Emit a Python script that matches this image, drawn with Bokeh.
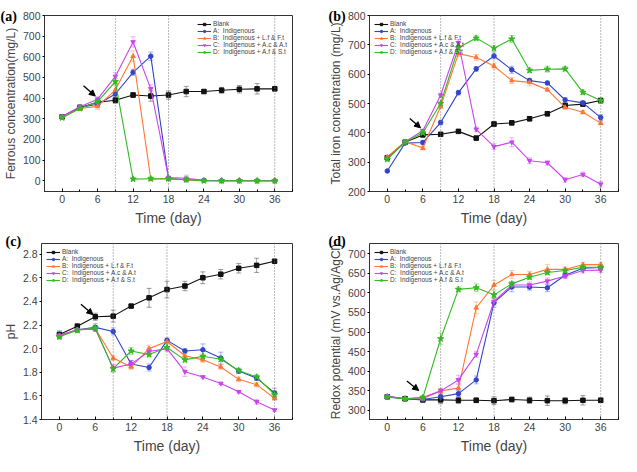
from bokeh.plotting import figure
from bokeh.layouts import column, row
from bokeh.models import (ColumnDataSource, Whisker, TeeHead, Legend, LegendItem,
                          Span, Label, Arrow, NormalHead, FixedTicker, PrintfTickFormatter)
from bokeh.embed import file_html
from bokeh.resources import INLINE

# ---------------- data ----------------
days = [0, 3, 6, 9, 12, 15, 18, 21, 24, 27, 30, 33, 36]
series_names = ["Blank", "A:  Indigenous", "B:  Indigenous + L.f & F.t",
                "C:  Indigenous + A.c & A.t", "D:  Indigenous + A.f & S.t"]
colors = ["#111111", "#3344cc", "#ff7733", "#cc44ee", "#33bb22"]
markers = ["square", "circle", "triangle", "inverted_triangle", "star"]
x_title = "Time (day)"

# (a) Ferrous concentration (mg/L)
fe2_blank = [310, 355, 380, 390, 415, 410, 415, 432, 432, 438, 443, 445, 445]
fe2_A = [310, 355, 370, 420, 525, 603, 10, 5, 2, 0, 0, 0, 0]
fe2_B = [310, 350, 360, 440, 603, 8, 10, 5, 0, 0, 0, 0, 0]
fe2_C = [312, 358, 395, 505, 672, 445, 15, 12, 2, 0, 0, 0, 0]
fe2_D = [305, 350, 383, 480, 8, 10, 10, 5, 0, 0, 0, 0, 0]
fe2_err_blank = [8, 10, 10, 15, 12, 25, 20, 25, 10, 14, 18, 25, 10]
fe2_err_A = [8, 10, 10, 15, 15, 20, 8, 5, 3, 3, 3, 3, 3]
fe2_err_B = [8, 10, 14, 20, 25, 10, 8, 5, 3, 3, 3, 3, 3]
fe2_err_C = [8, 10, 12, 18, 25, 20, 8, 15, 3, 3, 3, 3, 3]
fe2_err_D = [8, 10, 10, 15, 8, 8, 8, 5, 3, 3, 3, 3, 3]

# (b) Total iron concentration (mg/L)
tfe_blank = [315, 368, 393, 395, 405, 382, 430, 434, 448, 465, 493, 498, 510]
tfe_A = [270, 365, 367, 435, 537, 618, 662, 615, 578, 570, 512, 502, 452]
tfe_B = [318, 370, 348, 490, 670, 657, 628, 578, 572, 547, 487, 470, 433]
tfe_C = [312, 370, 407, 528, 707, 412, 353, 368, 305, 298, 240, 258, 225]
tfe_D = [310, 368, 400, 500, 690, 723, 688, 720, 613, 617, 618, 538, 510]
tfe_err_blank = [5, 5, 6, 6, 6, 6, 8, 8, 8, 8, 8, 8, 8]
tfe_err_A = [5, 5, 6, 8, 8, 8, 10, 12, 8, 6, 8, 8, 10]
tfe_err_B = [5, 5, 6, 8, 10, 10, 10, 10, 12, 6, 8, 6, 6]
tfe_err_C = [5, 5, 6, 8, 10, 8, 10, 15, 10, 8, 8, 8, 10]
tfe_err_D = [5, 5, 6, 8, 8, 8, 10, 12, 8, 10, 8, 8, 8]

# (c) pH
ph_blank = [2.12, 2.19, 2.27, 2.275, 2.36, 2.43, 2.50, 2.53, 2.60, 2.63, 2.68, 2.705, 2.74]
ph_A = [2.11, 2.16, 2.18, 2.145, 1.87, 1.84, 2.07, 1.98, 1.99, 1.92, 1.81, 1.75, 1.625]
ph_B = [2.11, 2.16, 2.17, 1.92, 1.845, 2.00, 2.06, 1.94, 1.905, 1.845, 1.74, 1.695, 1.58]
ph_C = [2.11, 2.16, 2.165, 1.835, 1.87, 1.975, 2.00, 1.805, 1.76, 1.705, 1.635, 1.55, 1.48]
ph_D = [2.10, 2.155, 2.175, 1.83, 1.98, 1.95, 2.01, 1.905, 1.935, 1.91, 1.815, 1.76, 1.61]
ph_err_blank = [0.03, 0.02, 0.03, 0.05, 0.01, 0.08, 0.07, 0.04, 0.05, 0.04, 0.04, 0.06, 0.01]
ph_err_A = [0.02, 0.02, 0.03, 0.03, 0.03, 0.03, 0.02, 0.02, 0.05, 0.05, 0.02, 0.02, 0.04]
ph_err_B = [0.02, 0.02, 0.02, 0.02, 0.02, 0.03, 0.02, 0.02, 0.02, 0.02, 0.02, 0.02, 0.02]
ph_err_C = [0.02, 0.02, 0.02, 0.03, 0.03, 0.03, 0.02, 0.04, 0.01, 0.01, 0.01, 0.02, 0.01]
ph_err_D = [0.02, 0.02, 0.02, 0.03, 0.03, 0.02, 0.03, 0.02, 0.02, 0.02, 0.02, 0.02, 0.03]

# (d) Redox potential (mV vs. Ag/AgCl)
orp_blank = [335, 330, 327, 327, 326, 326, 325, 328, 326, 325, 325, 326, 326]
orp_A = [336, 330, 328, 335, 343, 378, 575, 615, 615, 613, 645, 663, 665]
orp_B = [335, 330, 330, 350, 357, 562, 620, 647, 647, 660, 660, 672, 672]
orp_C = [336, 330, 333, 350, 378, 443, 578, 620, 620, 630, 643, 657, 658]
orp_D = [334, 330, 333, 483, 609, 613, 595, 623, 640, 652, 657, 665, 665]
orp_err_blank = [5, 5, 5, 10, 8, 6, 10, 6, 8, 12, 8, 12, 6]
orp_err_A = [4, 4, 4, 6, 8, 10, 12, 12, 8, 10, 6, 6, 6]
orp_err_B = [4, 4, 4, 6, 12, 15, 12, 10, 8, 12, 6, 6, 6]
orp_err_C = [4, 4, 4, 6, 12, 8, 10, 8, 8, 8, 6, 6, 6]
orp_err_D = [4, 4, 4, 15, 6, 10, 10, 6, 6, 6, 6, 6, 6]

dividers = [9, 18, 36]
x_ticks = [0, 6, 12, 18, 24, 30, 36]


def make_panel(tag, ylabel, data, errs, yrange, yticks, ytick_fmt, legend_loc,
               arrow, width, height, borders, tag_pos):
    bl, br, bt, bb = borders
    p = figure(width=width, height=height, output_backend="svg",
               toolbar_location=None, x_range=(-3, 39), y_range=yrange,
               min_border_left=bl, min_border_right=br,
               min_border_top=bt, min_border_bottom=bb)
    p.grid.visible = False
    p.outline_line_color = "#333333"
    p.outline_line_width = 1
    p.background_fill_color = "white"
    p.border_fill_color = "white"

    xa = p.xaxis[0]
    xa.ticker = FixedTicker(ticks=x_ticks, minor_ticks=list(range(-3, 40, 3)))
    xa.axis_label = x_title
    xa.axis_label_text_font = "Liberation Sans"
    xa.axis_label_text_font_style = "normal"
    xa.axis_label_text_font_size = "14px"
    xa.axis_label_standoff = 4
    xa.major_label_text_font = "Liberation Sans"
    xa.major_label_text_font_size = "10.5px"
    xa.major_label_standoff = 3
    xa.major_tick_in = 3
    xa.major_tick_out = 0
    xa.minor_tick_in = 2
    xa.minor_tick_out = 0
    xa.axis_line_color = "#333333"

    ya = p.yaxis[0]
    ya.ticker = FixedTicker(ticks=yticks, minor_ticks=[])
    ya.axis_label = ylabel
    ya.axis_label_text_font = "Liberation Sans"
    ya.axis_label_text_font_style = "normal"
    ya.axis_label_text_font_size = "12px"
    ya.axis_label_standoff = 2
    ya.major_label_text_font = "Liberation Sans"
    ya.major_label_text_font_size = "10.5px"
    ya.major_label_standoff = 2
    ya.major_tick_in = 0
    ya.major_tick_out = 2
    ya.minor_tick_in = 0
    ya.minor_tick_out = 0
    ya.axis_line_color = "#333333"
    if ytick_fmt:
        ya.formatter = PrintfTickFormatter(format=ytick_fmt)

    for d in dividers:
        p.add_layout(Span(location=d, dimension="height", line_color="#777777",
                          line_dash="1 2", line_width=1))

    items = []
    for name, col, mk, ys, es in zip(series_names, colors, markers, data, errs):
        src = ColumnDataSource(dict(x=days, y=ys,
                                    lo=[a - b for a, b in zip(ys, es)],
                                    hi=[a + b for a, b in zip(ys, es)]))
        w = Whisker(source=src, base="x", lower="lo", upper="hi",
                    line_color=col, line_alpha=0.4, line_width=1,
                    upper_head=TeeHead(size=5, line_color=col, line_alpha=0.4),
                    lower_head=TeeHead(size=5, line_color=col, line_alpha=0.4))
        p.add_layout(w)
        lr = p.line("x", "y", source=src, line_color=col, line_width=1.1)
        sr = p.scatter("x", "y", source=src, marker=mk, size=4.5 if mk != "star" else 6.5,
                       fill_color=col, line_color=col)
        items.append(LegendItem(label=name, renderers=[lr, sr]))

    leg = Legend(items=items, location=legend_loc,
                 label_text_font="Liberation Sans", label_text_font_size="6.5px",
                 label_height=6, glyph_height=6, glyph_width=14, spacing=0,
                 padding=1, margin=4, label_standoff=2,
                 border_line_alpha=0, background_fill_alpha=0)
    p.add_layout(leg)

    xs, ys0, xe, ye = arrow
    p.add_layout(Arrow(end=NormalHead(size=6, fill_color="black", line_color="black"),
                       x_start=xs, y_start=ys0, x_end=xe, y_end=ye,
                       line_color="black", line_width=1.3))

    p.add_layout(Label(x=tag_pos[0], y=tag_pos[1], x_units="screen", y_units="screen",
                       text=tag, text_font="Liberation Serif", text_font_style="bold",
                       text_font_size="14px", text_color="black",
                       text_align="left", text_baseline="top"), "above")
    return p


pa = make_panel("(a)", "Ferrous concentration(mg/L)",
                [fe2_blank, fe2_A, fe2_B, fe2_C, fe2_D],
                [fe2_err_blank, fe2_err_A, fe2_err_B, fe2_err_C, fe2_err_D],
                (-52, 800), list(range(0, 801, 100)), None, "top_right",
                (3.6, 460, 5.6, 410), 310, 228, (37, 18, 7, 31), (-44, 7))
pb = make_panel("(b)", "Total iron concentration (mg/L)",
                [tfe_blank, tfe_A, tfe_B, tfe_C, tfe_D],
                [tfe_err_blank, tfe_err_A, tfe_err_B, tfe_err_C, tfe_err_D],
                (200, 800), list(range(200, 801, 100)), None, "top_left",
                (3.8, 449, 5.6, 417), 311, 228, (59, 3, 7, 31), (-41, 7))
pc = make_panel("(c)", "pH",
                [ph_blank, ph_A, ph_B, ph_C, ph_D],
                [ph_err_blank, ph_err_A, ph_err_B, ph_err_C, ph_err_D],
                (1.4, 2.89), [1.4, 1.6, 1.8, 2.0, 2.2, 2.4, 2.6, 2.8], "%.1f", "top_left",
                (3.6, 2.376, 5.6, 2.288), 310, 228, (37, 18, 11, 24), (-36, 10))
pd_ = make_panel("(d)", "Redox potential (mV vs.Ag/AgCl)",
                 [orp_blank, orp_A, orp_B, orp_C, orp_D],
                 [orp_err_blank, orp_err_A, orp_err_B, orp_err_C, orp_err_D],
                 (277, 726), list(range(300, 701, 50)), None, "top_left",
                 (3.3, 375, 5.3, 351), 311, 228, (59, 3, 11, 24), (-41, 10))

layout = column(row(pa, pb), row(pc, pd_))
open("out.html", "w").write(file_html(layout, INLINE))
